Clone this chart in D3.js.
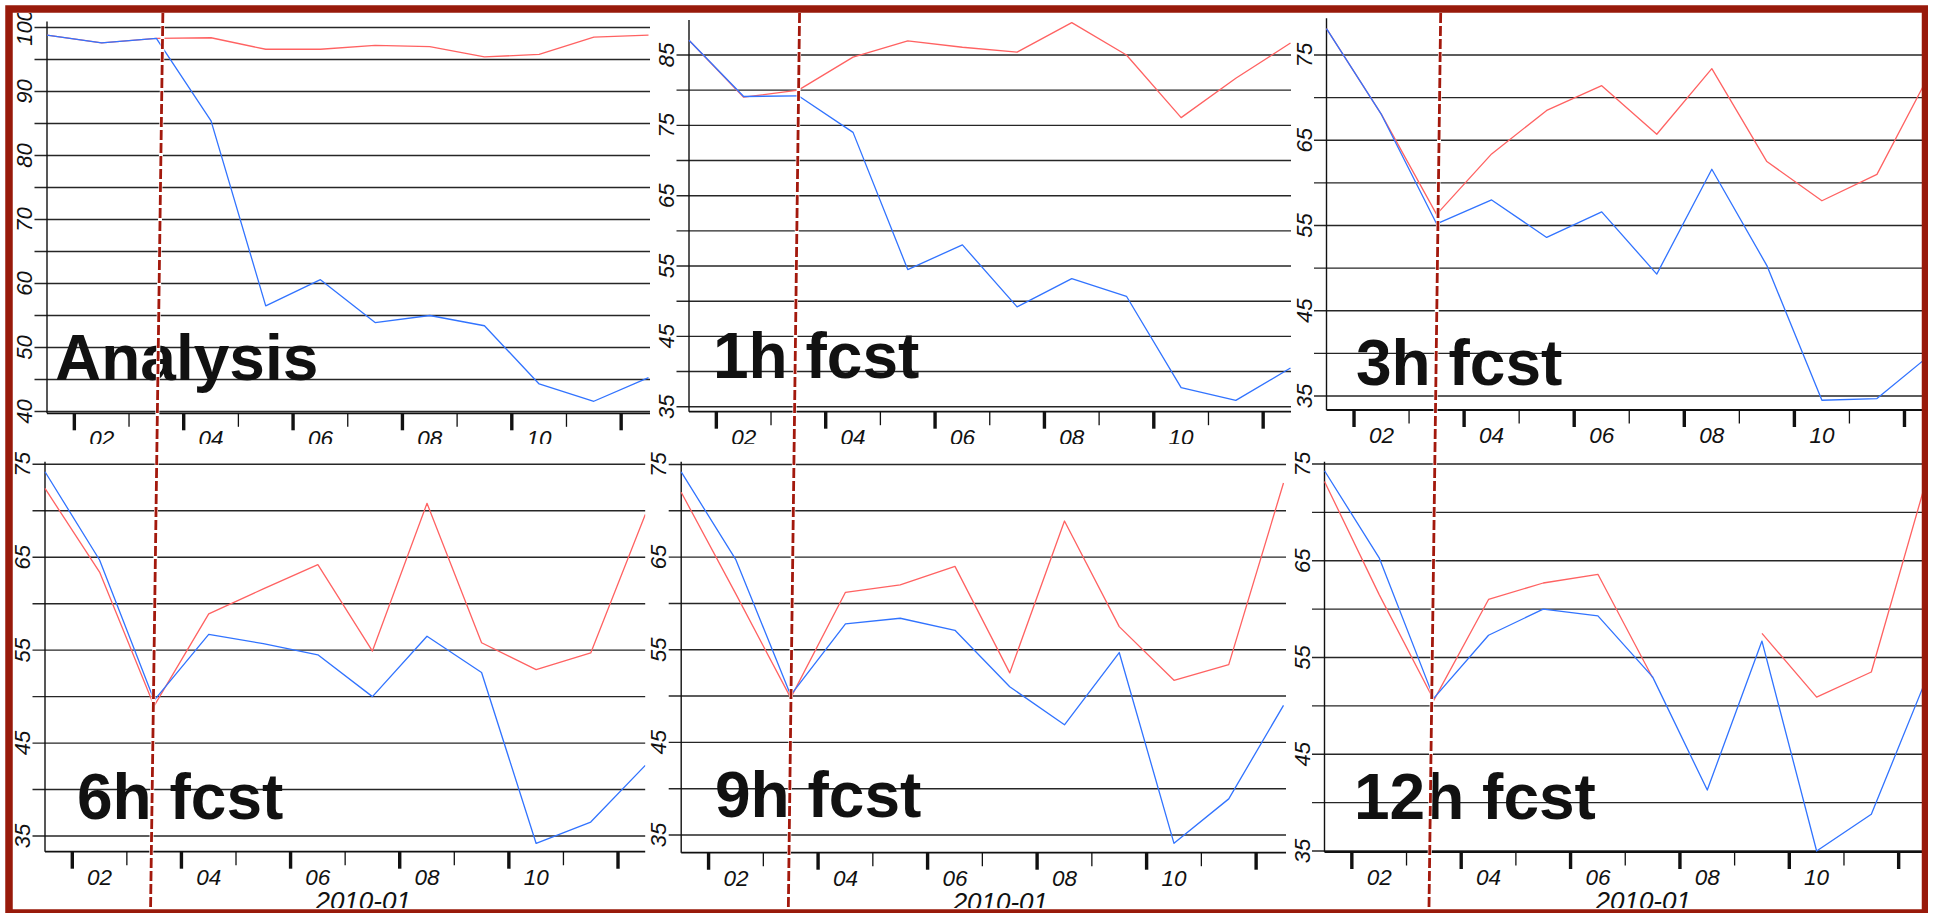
<!DOCTYPE html>
<html>
<head>
<meta charset="utf-8">
<script src="https://cdn.jsdelivr.net/npm/d3@7"></script>
<style>
html,body{margin:0;padding:0;background:#fff;overflow:hidden;}
svg{display:block;}
text{font-family:"Liberation Sans",Arial,Helvetica,sans-serif;fill:#111;}
</style>
</head>
<body>
<svg id="chart" width="1933" height="913"></svg>
<script>
// ---------------- data ----------------
const days = [1,2,3,4,5,6,7,8,9,10,11,12];          // January 2010, 12 UTC
const monthLabel = "2010-01";
const xTickLabels = ["02","04","06","08","10"];
const markerDay = 3;
const panelTitles = ["Analysis","1h fcst","3h fcst","6h fcst","9h fcst","12h fcst"];

const yLabelsAnalysis = [40,50,60,70,80,90,100];
const yLabels1h = [35,45,55,65,75,85];
const yLabelsFcst = [35,45,55,65,75];

const analysisRed  = [98.8,97.6,98.3,98.4,96.6,96.6,97.2,97.0,95.4,95.8,98.5,98.8];
const analysisBlue = [98.8,97.6,98.3,85.4,56.5,60.6,53.9,55.0,53.4,44.3,41.6,45.3];
const fcst1hRed    = [87.1,79.0,80.0,84.7,87.0,86.1,85.4,89.6,85.0,76.1,81.7,86.7];
const fcst1hBlue   = [87.1,79.1,79.2,74.0,54.5,58.0,49.2,53.2,50.7,37.7,35.9,40.5];
const fcst3hRed    = [78.1,68.0,56.3,63.4,68.5,71.4,65.7,73.4,62.5,57.9,61.0,73.3];
const fcst3hBlue   = [78.1,68.0,55.2,58.0,53.6,56.6,49.3,61.6,50.3,34.5,34.7,40.0];
const fcst6hRed    = [72.4,63.4,49.0,58.9,61.6,64.2,54.9,70.8,55.8,52.9,54.7,69.6];
const fcst6hBlue   = [74.2,64.7,49.6,56.7,55.7,54.5,50.0,56.5,52.6,34.2,36.5,42.6];
const fcst9hRed    = [72.0,61.0,49.8,61.2,62.0,64.0,52.5,68.9,57.5,51.7,53.4,73.0];
const fcst9hBlue   = [74.2,64.7,50.1,57.8,58.4,57.1,51.0,46.9,54.7,34.1,38.9,49.0];
const fcst12hRed   = [73.2,61.5,50.6,61.0,62.7,63.6,52.9,null,57.5,50.9,53.5,73.2];
const fcst12hBlue  = [74.3,65.3,50.8,57.3,60.0,59.3,53.0,41.3,56.7,35.0,38.8,52.7];

// ---------------- layout ----------------
const panels = [
  {title:panelTitles[0], red:analysisRed, blue:analysisBlue, yLabels:yLabelsAnalysis, yDomain:[40,100],
   clip:[12,650,13,444], xr:[47,648.5], yr:[411.5,27.5], axisTop:21.5, axisY:413.3, tx:55, ty:380, month:false},
  {title:panelTitles[1], red:fcst1hRed, blue:fcst1hBlue, yLabels:yLabels1h, yDomain:[35,85],
   clip:[650,1291,13,444], xr:[689,1290.5], yr:[406.7,55], axisTop:20, axisY:411.7, tx:713, ty:378, month:false},
  {title:panelTitles[2], red:fcst3hRed, blue:fcst3hBlue, yLabels:yLabelsFcst, yDomain:[35,75],
   clip:[1291,1923,13,444], xr:[1326.5,1932], yr:[396,55], axisTop:18.3, axisY:410, tx:1356, ty:385, month:false},
  {title:panelTitles[3], red:fcst6hRed, blue:fcst6hBlue, yLabels:yLabelsFcst, yDomain:[35,75],
   clip:[12,645.5,444,908], xr:[45,645.3], yr:[836,464.3], axisTop:461.7, axisY:851.7, tx:77, ty:819, month:true},
  {title:panelTitles[4], red:fcst9hRed, blue:fcst9hBlue, yLabels:yLabelsFcst, yDomain:[35,75],
   clip:[645.5,1286,444,908], xr:[681.2,1283.5], yr:[835,464.5], axisTop:461.7, axisY:852.7, tx:715, ty:817, month:true},
  {title:panelTitles[5], red:fcst12hRed, blue:fcst12hBlue, yLabels:yLabelsFcst, yDomain:[35,75],
   clip:[1286,1923,444,908], xr:[1324.5,1926], yr:[851,464], axisTop:461.7, axisY:852, tx:1354, ty:819, month:true}
];

const dates = days.map(d => new Date(Date.UTC(2010,0,d,12)));
const svg = d3.select("#chart");
const defs = svg.append("defs");
svg.append("rect").attr("width",1933).attr("height",913).attr("fill","#fff");

const RED = "#ff6262", BLUE = "#3173ff";
const scales = [];

panels.forEach((p,i) => {
  const cid = "clip"+i;
  defs.append("clipPath").attr("id",cid).append("rect")
    .attr("x",p.clip[0]).attr("y",p.clip[2])
    .attr("width",p.clip[1]-p.clip[0]).attr("height",p.clip[3]-p.clip[2]);
  const g = svg.append("g").attr("clip-path",`url(#${cid})`);
  g.append("rect").attr("x",p.clip[0]).attr("y",p.clip[2])
    .attr("width",p.clip[1]-p.clip[0]).attr("height",p.clip[3]-p.clip[2]).attr("fill","#fff");

  const x = d3.scaleUtc().domain([dates[0], dates[dates.length-1]]).range(p.xr);
  const y = d3.scaleLinear().domain(p.yDomain).range(p.yr);
  scales.push(x);
  const ax = x(dates[0]);

  // horizontal grid lines (every 5 units) doubling as left ticks
  const gridVals = d3.range(p.yDomain[0], p.yDomain[1]+0.001, 5);
  g.selectAll("line.grid").data(gridVals).join("line").attr("class","grid")
    .attr("x1",ax-12.5).attr("x2",p.clip[1]).attr("y1",d=>y(d)).attr("y2",d=>y(d))
    .attr("stroke","#262626").attr("stroke-width",1.4);

  // left axis line
  g.append("line").attr("x1",ax).attr("x2",ax).attr("y1",p.axisTop).attr("y2",p.axisY)
    .attr("stroke","#111").attr("stroke-width",1.4);
  // bottom axis line
  g.append("line").attr("x1",ax).attr("x2",p.clip[1]).attr("y1",p.axisY).attr("y2",p.axisY)
    .attr("stroke","#111").attr("stroke-width",1.8);

  // x ticks at day boundaries (thick at even days)
  const tickDates = d3.utcDay.range(new Date(Date.UTC(2010,0,2)), new Date(Date.UTC(2010,0,12,1)));
  g.selectAll("line.xt").data(tickDates).join("line").attr("class","xt")
    .attr("x1",d=>x(d)).attr("x2",d=>x(d))
    .attr("y1",p.axisY).attr("y2",d=>p.axisY + (d.getUTCDate()%2===0 ? 17 : 13.5))
    .attr("stroke","#111").attr("stroke-width",d=>d.getUTCDate()%2===0 ? 3.4 : 1.3);

  // x labels
  g.selectAll("text.xl").data(xTickLabels).join("text").attr("class","xl")
    .attr("x",d=>x(new Date(Date.UTC(2010,0,+d,12)))).attr("y",p.axisY+33)
    .attr("text-anchor","middle").attr("font-style","italic").attr("font-size",22.5)
    .text(d=>d);

  // y labels (rotated)
  g.selectAll("text.yl").data(p.yLabels).join("text").attr("class","yl")
    .attr("transform",d=>`translate(${ax-15},${y(d)}) rotate(-90)`)
    .attr("text-anchor","middle").attr("font-style","italic").attr("font-size",22)
    .text(d=>d);

  // month label
  if (p.month) {
    g.append("text").attr("x",(p.xr[0]+p.xr[1])/2+18).attr("y",p.axisY+58)
      .attr("text-anchor","middle").attr("font-style","italic").attr("font-size",26)
      .text(monthLabel);
  }

  // series
  const line = d3.line().defined(d=>d.v!=null).x(d=>x(d.t)).y(d=>y(d.v));
  const mk = arr => arr.map((v,k)=>({t:dates[k], v:v}));
  g.append("path").datum(mk(p.red)).attr("d",line).attr("fill","none")
    .attr("stroke",RED).attr("stroke-width",1.3).attr("stroke-linejoin","round");
  g.append("path").datum(mk(p.blue)).attr("d",line).attr("fill","none")
    .attr("stroke",BLUE).attr("stroke-width",1.3).attr("stroke-linejoin","round");

  // big panel title
  g.append("text").attr("x",p.tx).attr("y",p.ty)
    .attr("font-weight","bold").attr("font-size",64).text(p.title);
});

// dashed marker lines at the marker day, spanning both rows
const markerOffsets = [[6.5,-3.6],[1.2,-2.4],[4.1,-4.9]];
[0,1,2].forEach(c => {
  const md = new Date(Date.UTC(2010,0,markerDay,12));
  const xt = scales[c](md) + markerOffsets[c][0];
  const xb = scales[c+3](md) + markerOffsets[c][1];
  svg.append("line").attr("x1",xt).attr("y1",13).attr("x2",xb).attr("y2",910)
    .attr("stroke","#fff").attr("stroke-width",4);
  svg.append("line").attr("x1",xt).attr("y1",13).attr("x2",xb).attr("y2",910)
    .attr("stroke","#a3190d").attr("stroke-width",2.8).attr("stroke-dasharray","10,3");
});

// outer frame
svg.append("rect").attr("x",9).attr("y",9).attr("width",1916.5).attr("height",904)
  .attr("fill","none").attr("stroke","#981a0b").attr("stroke-width",7.5);
svg.append("rect").attr("x",1928).attr("y",0).attr("width",5).attr("height",913).attr("fill","#fff");
</script>
</body>
</html>
